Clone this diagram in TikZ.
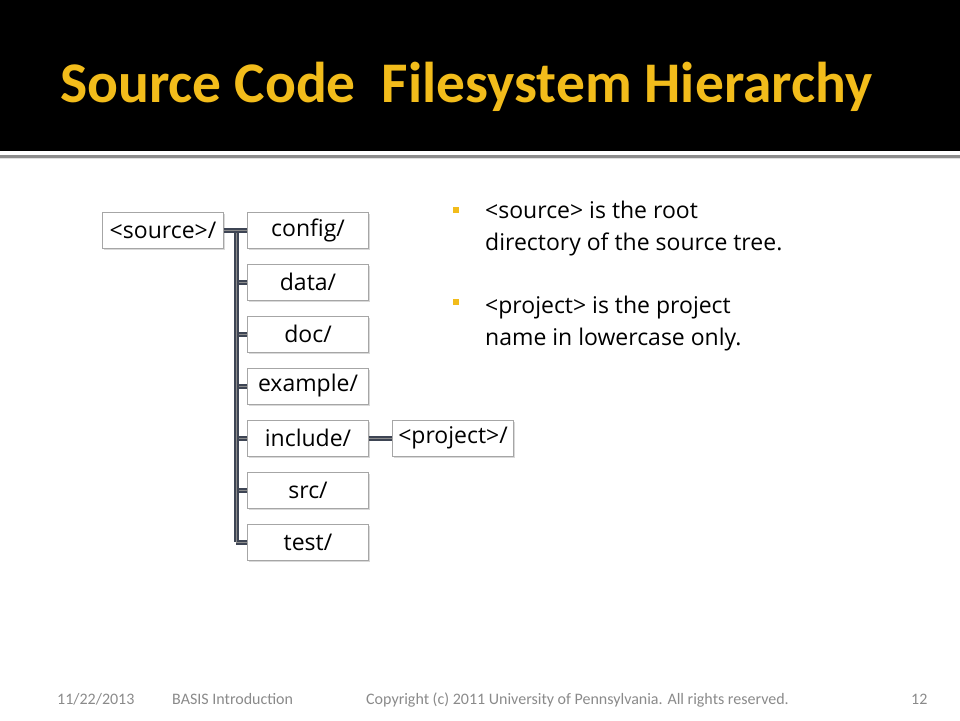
\documentclass[tikz,border=0pt]{standalone}
\usepackage{fontspec}
\setmainfont{Open Sans}
\newfontfamily\titlefont{Carlito}
\usepackage{tikz}
\usetikzlibrary{calc,shadows}

\definecolor{gold}{HTML}{F2BC1B}
\definecolor{linkgray}{HTML}{3E4554}
\definecolor{footgray}{HTML}{8A8A8A}

\tikzset{
	dir/.style={draw=black!35, fill=white, minimum width=121pt, minimum height=36pt,
		inner sep=0pt, font=\fontsize{23}{26}\selectfont,
		drop shadow={shadow xshift=1.5pt, shadow yshift=-1.5pt, opacity=0.3}},
	link/.style={draw=linkgray, double=black!45, double distance=1pt, line width=2pt},
	bullet/.style={fill=gold, minimum size=6pt, inner sep=0pt},
	note/.style={anchor=base west, inner sep=0pt, font=\fontsize{23}{26}\selectfont},
	foot/.style={text=footgray, font=\titlefont\fontsize{16}{19}\selectfont, anchor=base west, inner sep=0pt}
}

\begin{document}
\begin{tikzpicture}[x=1pt, y=-1pt]
		\useasboundingbox (0, 0) rectangle (960, 720);
		\fill[black] (0, 0) rectangle (960, 151);
		\fill[black!45] (0, 155) rectangle (960, 157.5);
		\fill[black!12] (0, 157.5) rectangle (960, 159);
		\draw (60, 102) node[anchor=base west, inner sep=0pt, text=gold, font=\titlefont\bfseries\fontsize{57.5}{64}\selectfont] (title) {Source Code\ \ Filesystem Hierarchy};

		% directory tree
		\draw (163, 230) node[dir] (source)    {<source>/};
		\draw (308, 230) node[dir] (config)    {config/};
		\draw (308, 282) node[dir] (data)    {data/};
		\draw (308, 334) node[dir] (doc)    {doc/};
		\draw (308, 386) node[dir] (example)    {example/};
		\draw (308, 438) node[dir] (include)    {include/};
		\draw (308, 490) node[dir] (src)    {src/};
		\draw (308, 542) node[dir] (test)    {test/};
		\draw (453, 438) node[dir] (project)    {<project>/};
		\coordinate (bar) at (236, 230);

		\foreach \d in {data, doc, example, include, src, test}
			\draw[link] (bar |- \d.west) -- (\d.west);
		\draw[link] (bar) -- (bar |- test.west);
		\draw[link] (source) -- (config);
		\draw[link] (include) -- (project);

		% notes
		\draw (456, 210) node[bullet] (b1) {};
		\draw (485, 218) node[note] (n1) {<source> is the root};
		\draw (485, 250) node[note] (n1b) {directory of the source tree.};
		\draw (456, 302) node[bullet] (b2) {};
		\draw (485, 313) node[note] (n2) {<project> is the project};
		\draw (485, 345) node[note] (n2b) {name in lowercase only.};

		% footer
		\draw (57, 704) node[foot] (date) {11/22/2013};
		\draw (172, 704) node[foot] (course) {BASIS Introduction};
		\draw (366, 704) node[foot] (copy) {Copyright (c) 2011 University of Pennsylvania. All rights reserved.};
		\draw (911, 704) node[foot] (page) {12};
	\end{tikzpicture}
\end{document}
